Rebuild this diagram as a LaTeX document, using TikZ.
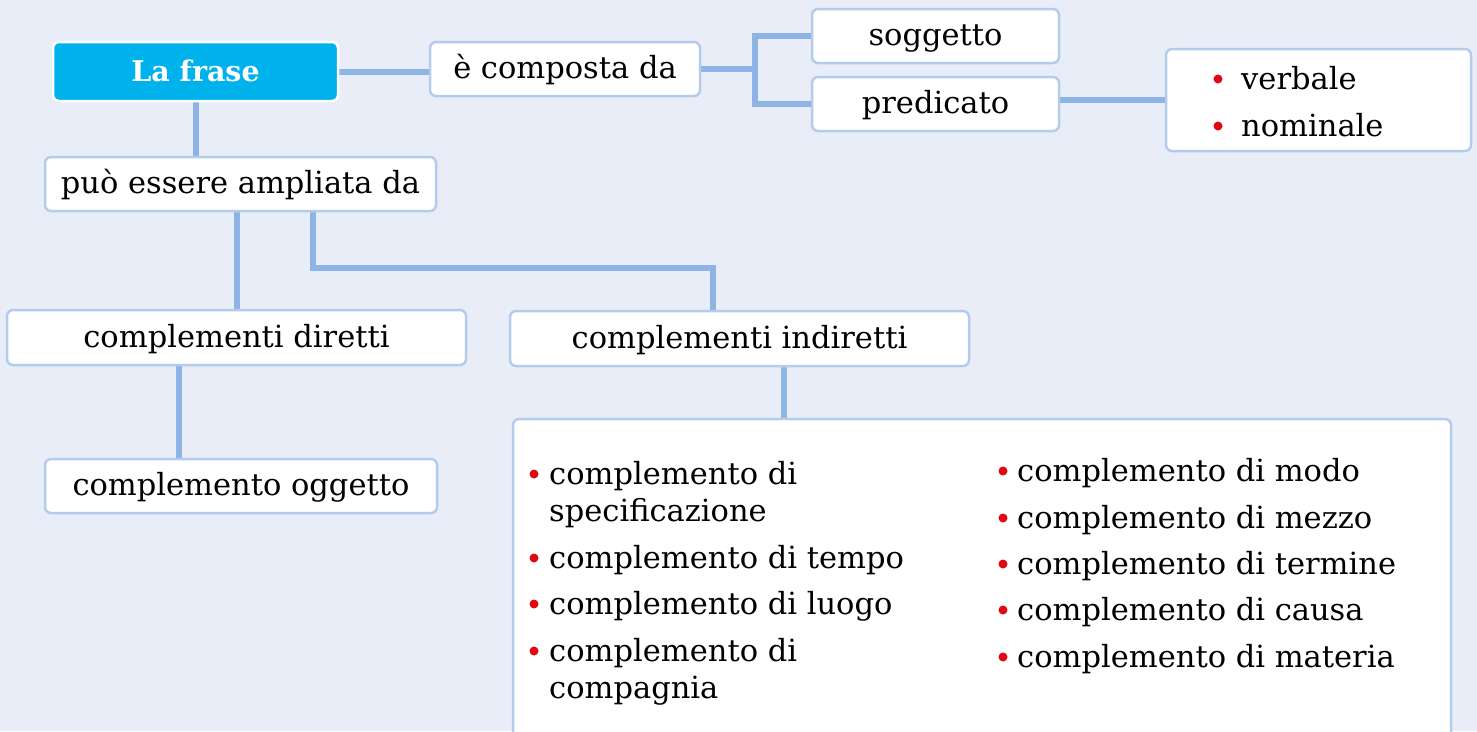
\documentclass[tikz,border=0pt]{standalone}
\usepackage{fontspec}
\setmainfont{DejaVu Serif}
\usetikzlibrary{backgrounds}
\definecolor{bgc}{HTML}{E9EDF8}
\definecolor{linec}{HTML}{8DB4E2}
\definecolor{bordc}{HTML}{B4CCEC}
\definecolor{rootc}{HTML}{00B2EB}
\definecolor{bred}{HTML}{E30613}
\tikzset{
 box/.style={draw=bordc, line width=2.5pt, fill=white, rounded corners=6pt, inner sep=0pt,
   font=\fontsize{30.5}{36}\selectfont, text height=23pt, text depth=4pt},
 rootbox/.style={box, draw=white, fill=rootc, text=white, font=\fontsize{28.5}{34}\selectfont\bfseries},
 conn/.style={draw=linec, line width=6pt},
 item/.style={anchor=base west, inner sep=0pt, font=\fontsize{30.5}{36}\selectfont},
 dot/.style={circle, fill=bred, inner sep=0pt, minimum size=9pt},
}
\begin{document}
\begin{tikzpicture}[x=1pt,y=-1pt]
\useasboundingbox (0,0) rectangle (1477,731);
\clip (0,0) rectangle (1477,731);
% boxes
\node[rootbox, minimum width=285, minimum height=59] (root) at (195.5,71.5) {La frase};
\node[box, minimum width=270, minimum height=54] (comp) at (565,69) {è composta da};
\node[box, minimum width=247, minimum height=54] (sogg) at (935.5,36) {soggetto};
\node[box, minimum width=247, minimum height=54] (pred) at (935.5,104) {predicato};
\node[box, minimum width=305, minimum height=102] (vn) at (1318.5,100) {};
\node[box, minimum width=391, minimum height=54] (amp) at (240.5,184) {può essere ampliata da};
\node[box, minimum width=459, minimum height=55] (dir) at (236.5,337.5) {complementi diretti};
\node[box, minimum width=459, minimum height=55] (ind) at (739.5,338.5) {complementi indiretti};
\node[box, minimum width=392, minimum height=54] (ogg) at (241,486) {complemento oggetto};
\node[box, minimum width=938, minimum height=340] (big) at (982,589) {};
% verbale / nominale
\node[dot] (vd1) at (1218,79) {};
\node[item] (v1) at (1241,89) {verbale};
\node[dot] (vd2) at (1218,126) {};
\node[item] (v2) at (1241,136) {nominale};
% left column
\node[dot] (ld1) at (534,474) {};
\node[item] (l1a) at (549,484) {complemento di};
\node[item] (l1b) at (549,521) {specificazione};
\node[dot] (ld2) at (534,558) {};
\node[item] (l2) at (549,568) {complemento di tempo};
\node[dot] (ld3) at (534,604) {};
\node[item] (l3) at (549,614) {complemento di luogo};
\node[dot] (ld4) at (534,651) {};
\node[item] (l4a) at (549,661) {complemento di};
\node[item] (l4b) at (549,698) {compagnia};
% right column
\node[dot] (rd1) at (1003,471) {};
\node[item] (r1) at (1017,481) {complemento di modo};
\node[dot] (rd2) at (1003,518) {};
\node[item] (r2) at (1017,528) {complemento di mezzo};
\node[dot] (rd3) at (1003,564) {};
\node[item] (r3) at (1017,574) {complemento di termine};
\node[dot] (rd4) at (1003,610) {};
\node[item] (r4) at (1017,620) {complemento di causa};
\node[dot] (rd5) at (1003,657) {};
\node[item] (r5) at (1017,667) {complemento di materia};
% connectors
\coordinate (j1) at (755,69);
\begin{scope}[on background layer]
\fill[bgc] (0,0) rectangle (1477,731);
\draw[conn] (root.east) -- (root.east -| comp.west);
\draw[conn] (comp.east) -- (j1);
\draw[conn] (sogg.west) -| (j1) |- (pred.west);
\draw[conn] (pred.east |- vn.west) -- (vn.west);
\draw[conn] (root.south) -- (root.south |- amp.north);
\draw[conn] (dir.north) -- (dir.north |- amp.south);
\draw[conn] ([xshift=72pt]amp.south) -- ++(0,56) -| ([xshift=-26.5pt]ind.north);
\draw[conn] ([xshift=-57.5pt]dir.south) -- ([xshift=-57.5pt]dir.south |- ogg.north);
\draw[conn] ([xshift=44.5pt]ind.south) -- ([xshift=44.5pt]ind.south |- big.north);
\end{scope}
\end{tikzpicture}
\end{document}
